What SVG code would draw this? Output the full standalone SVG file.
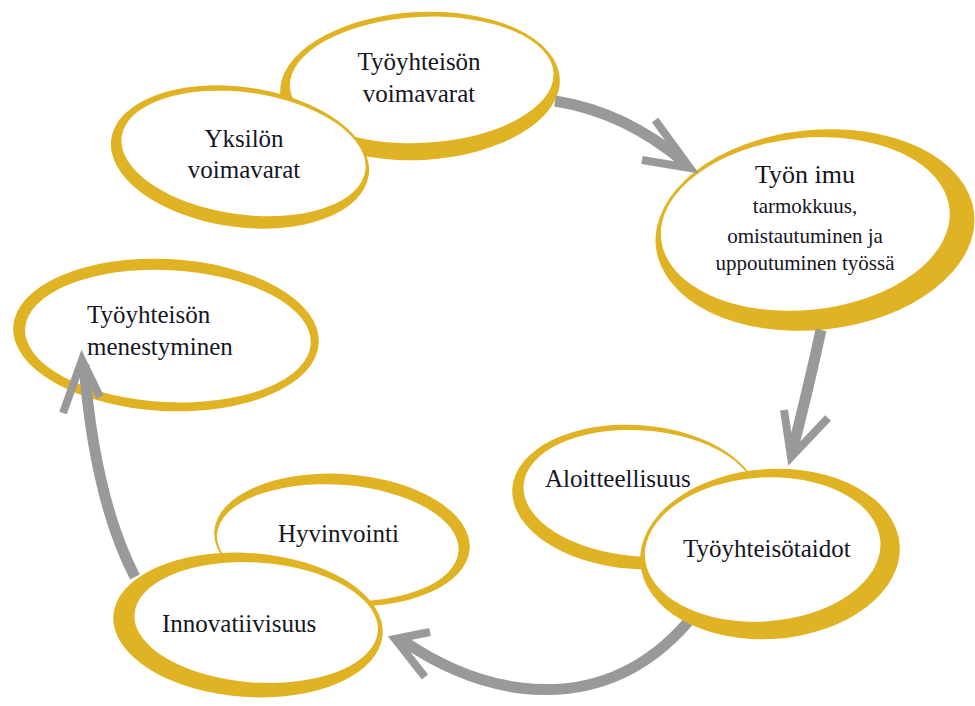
<svg xmlns="http://www.w3.org/2000/svg" width="975" height="706" viewBox="0 0 975 706">
<style>
.ring{fill:#E0B324}
.in{fill:#ffffff}
.t{font-family:"Liberation Serif","Times New Roman",serif;fill:#15151f;font-size:25px}
.s{font-size:21px}
.c{text-anchor:middle}
.sh{fill:none;stroke:#999999;stroke-width:11;stroke-linecap:butt}
.hd{fill:none;stroke:#999999;stroke-width:8;stroke-linecap:butt;stroke-linejoin:miter}
</style>
<rect width="975" height="706" fill="#ffffff"/>
<g id="node-tyoyhteison-voimavarat">
<ellipse class="ring" cx="420" cy="86" rx="140" ry="74" transform="rotate(-3 420 86)"/>
<ellipse class="in" cx="422" cy="80" rx="132" ry="63" transform="rotate(-3 420 86)"/>
<text class="t c" x="419" y="70">Työyhteisön</text>
<text class="t c" x="419" y="102">voimavarat</text>
</g>
<g id="node-yksilon-voimavarat">
<ellipse class="ring" cx="240" cy="157" rx="130" ry="70" transform="rotate(8 240 157)"/>
<ellipse class="in" cx="243" cy="153" rx="123" ry="61" transform="rotate(8 240 157)"/>
<text class="t c" x="244" y="147">Yksilön</text>
<text class="t c" x="244" y="178">voimavarat</text>
</g>
<g id="node-tyon-imu">
<ellipse class="ring" cx="815" cy="230" rx="160" ry="100" transform="rotate(-6 815 230)"/>
<ellipse class="in" cx="806" cy="223" rx="145" ry="86" transform="rotate(-6 815 230)"/>
<text class="t c" x="805" y="183" style="font-size:26px">Työn imu</text>
<text class="t s c" x="805" y="213">tarmokkuus,</text>
<text class="t s c" x="805" y="243">omistautuminen ja</text>
<text class="t s c" x="805" y="270">uppoutuminen työssä</text>
</g>
<g id="node-tyoyhteison-menestyminen">
<ellipse class="ring" cx="166" cy="335" rx="153" ry="76" transform="rotate(3 166 335)"/>
<ellipse class="in" cx="168" cy="336" rx="143" ry="66" transform="rotate(3 166 335)"/>
<text class="t" x="87" y="323">Työyhteisön</text>
<text class="t" x="87" y="355">menestyminen</text>
</g>
<g id="connectors">
<path class="sh" d="M555,101 Q625,112 684,162"/>
<polyline class="hd" points="655,120 690,168 642,160"/>
<path class="sh" d="M821,330 Q808,390 792,452"/>
<polyline class="hd" points="784,410 791,457 828,418"/>
<path class="sh" d="M688,622 Q620,700 520,688 Q460,680 402,640"/>
<polyline class="hd" points="430,632 395,639 425,677"/>
<path class="sh" d="M135,577 Q95,500 84,365"/>
<polyline class="hd" points="63,413 82,360 100,397"/>
</g>
<g id="node-hyvinvointi">
<ellipse class="ring" cx="342" cy="540" rx="128" ry="66" transform="rotate(4 342 540)"/>
<ellipse class="in" cx="338" cy="543" rx="121" ry="58" transform="rotate(4 342 540)"/>
<text class="t" x="278" y="542">Hyvinvointi</text>
</g>
<g id="node-innovatiivisuus">
<ellipse class="ring" cx="248" cy="625" rx="135" ry="72" transform="rotate(4 248 625)"/>
<ellipse class="in" cx="256" cy="622" rx="122" ry="60" transform="rotate(4 248 625)"/>
<text class="t" x="162" y="632">Innovatiivisuus</text>
</g>
<g id="node-aloitteellisuus">
<ellipse class="ring" cx="636" cy="497" rx="124" ry="72" transform="rotate(4 636 497)"/>
<ellipse class="in" cx="640" cy="493" rx="117" ry="63" transform="rotate(4 636 497)"/>
<text class="t" x="545" y="487">Aloitteellisuus</text>
</g>
<g id="node-tyoyhteisotaidot">
<ellipse class="ring" cx="770" cy="554" rx="130" ry="85" transform="rotate(-4 770 554)"/>
<ellipse class="in" cx="763" cy="549" rx="118" ry="72" transform="rotate(-4 770 554)"/>
<text class="t" x="683" y="557">Työyhteisötaidot</text>
</g>
</svg>
